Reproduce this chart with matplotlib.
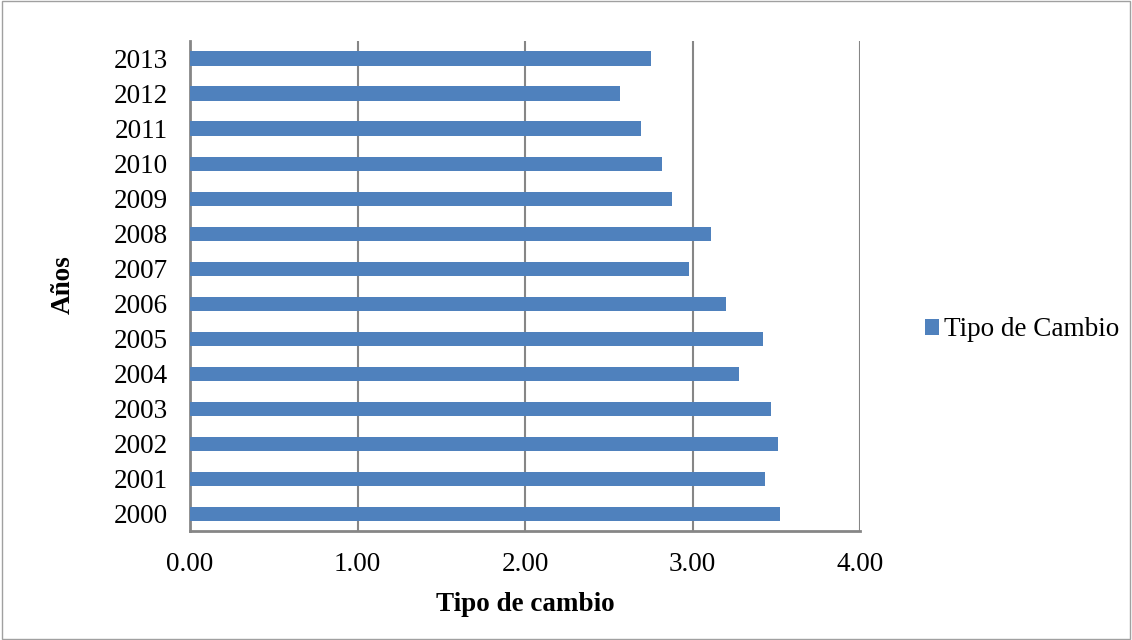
import matplotlib.pyplot as plt
from matplotlib.patches import Rectangle

# Datos
anios = ['2000', '2001', '2002', '2003', '2004', '2005', '2006',
         '2007', '2008', '2009', '2010', '2011', '2012', '2013']
tipo_cambio = [3.52, 3.43, 3.51, 3.47, 3.28, 3.42, 3.20,
               2.98, 3.11, 2.88, 2.82, 2.69, 2.57, 2.75]
ticks_x = [0, 1, 2, 3, 4]

plt.rcParams['font.family'] = ['Liberation Serif', 'DejaVu Serif']
fs = 19.5

fig = plt.figure(figsize=(11.32, 6.40), dpi=100)
ax = fig.add_axes([190 / 1132, 1 - 531 / 640, 670 / 1132, 490 / 640])

ax.barh(range(len(anios)), tipo_cambio, height=0.4, color='#4F81BD',
        label='Tipo de Cambio', zorder=3)

ax.set_yticks(range(len(anios)))
ax.set_yticklabels(anios)
ax.set_ylim(-0.5, len(anios) - 0.5)
ax.set_xlim(0, 4)
ax.set_xticks(ticks_x)
ax.set_xticklabels([f'{t:.2f}' for t in ticks_x])

ax.tick_params(axis='both', length=0, labelsize=fs, colors='black')
ax.tick_params(axis='x', pad=15)
ax.tick_params(axis='y', pad=16)

ax.grid(True, axis='x', color='#868686', linewidth=1.5, zorder=0)
for s in ['top', 'right']:
    ax.spines[s].set_visible(False)
for s in ['left', 'bottom']:
    ax.spines[s].set_color('#868686')
    ax.spines[s].set_linewidth(2)

ax.set_xlabel('Tipo de cambio', fontsize=fs, fontweight='bold', labelpad=11)
fig.text(63 / 1132, 1 - 285 / 640, 'Años', rotation=90, fontsize=fs,
         fontweight='bold', ha='center', va='center')

fig.legend(loc='center left', bbox_to_anchor=(925 / 1132, 1 - 330 / 640),
           frameon=False, fontsize=fs, handlelength=0.5, handleheight=0.5,
           handletextpad=0.22, borderaxespad=0, borderpad=0)

# Borde del área del gráfico
fig.patches.append(Rectangle((0.002, 0.002), 0.996, 0.996, transform=fig.transFigure,
                             fill=False, edgecolor='#A0A0A0', linewidth=1))

fig.savefig('out.png')
